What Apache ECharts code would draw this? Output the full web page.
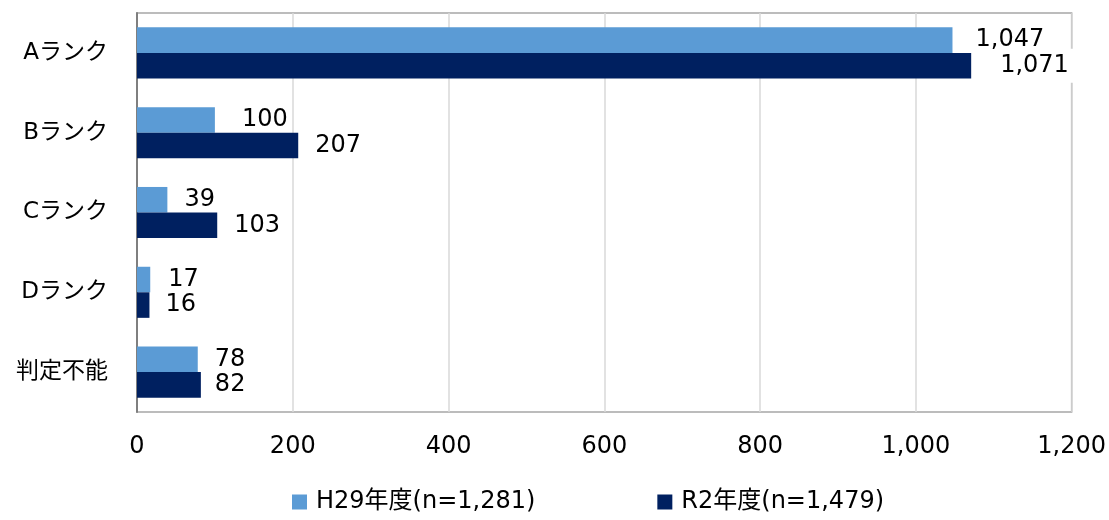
<!DOCTYPE html>
<html>
<head>
<meta charset="utf-8">
<script src="https://cdn.jsdelivr.net/npm/echarts@6/dist/echarts.min.js"></script>
<style>
  html, body { margin: 0; padding: 0; background: #fff; }
  #chart { width: 1109px; height: 520px; }
</style>
</head>
<body>
<div id="chart"></div>
<script>
// Ranks, top to bottom
const categories = ['Aランク', 'Bランク', 'Cランク', 'Dランク', '判定不能'];
const seriesNames = ['H29年度(n=1,281)', 'R2年度(n=1,479)'];
const valuesH29 = [1047, 100, 39, 17, 78];
const valuesR2 = [1071, 207, 103, 16, 82];
const xTicks = [0, 200, 400, 600, 800, 1000, 1200];

// Label gap from bar end, per bar
const gapH29 = [20, 24, 14, 15, 14];
const gapR2 = [26, 14, 14, 13, 11];
// White box padding [top, right, bottom, left]; the long R2 label sits over the frame
const padH29 = [[0, 3, 0, 3], [0, 3, 0, 3], [0, 3, 0, 3], [0, 3, 0, 3], [0, 3, 0, 3]];
const padR2 = [[2, 12, 10, 3], [0, 3, 0, 3], [0, 3, 0, 3], [0, 3, 0, 3], [0, 3, 0, 3]];

const latin = '"DejaVu Sans", "Noto Sans CJK JP", sans-serif';

function withLabels(values, gaps, pads) {
  return values.map((v, i) => ({
    value: v,
    label: { distance: gaps[i], padding: pads[i] }
  }));
}

const fmt = v => v.toLocaleString('en-US');

const labelStyle = {
  show: true,
  position: 'right',
  color: '#000',
  fontFamily: latin,
  fontSize: 24,
  lineHeight: 22,
  backgroundColor: '#fff',
  formatter: p => fmt(p.value)
};

const chart = echarts.init(document.getElementById('chart'));
chart.setOption({
  animation: false,
  backgroundColor: '#fff',
  grid: {
    left: 137, right: 33, top: 13, bottom: 108,
    show: true, borderColor: '#a6a6a6', borderWidth: 1.5
  },
  legend: {
    bottom: 1,
    left: 287,
    itemWidth: 15,
    itemHeight: 15,
    itemGap: 122,
    icon: 'rect',
    textStyle: { fontFamily: latin, fontSize: 24, color: '#000', padding: [0, 0, 0, 4] },
    data: seriesNames
  },
  xAxis: {
    type: 'value',
    min: xTicks[0],
    max: xTicks[xTicks.length - 1],
    interval: xTicks[1] - xTicks[0],
    axisLine: { show: false },
    axisTick: { show: false },
    splitLine: { lineStyle: { color: '#d9d9d9', width: 1.5 } },
    axisLabel: {
      margin: 23,
      color: '#000',
      fontFamily: latin,
      fontSize: 24,
      formatter: v => fmt(v)
    }
  },
  yAxis: {
    type: 'category',
    inverse: true,
    data: categories,
    axisLine: { show: true, lineStyle: { color: '#7f7f7f', width: 2 } },
    axisTick: { show: false },
    axisLabel: {
      margin: 29,
      color: '#000',
      fontFamily: latin,
      fontSize: 23
    }
  },
  series: [
    {
      name: seriesNames[0],
      type: 'bar',
      data: withLabels(valuesH29, gapH29, padH29),
      itemStyle: { color: '#5b9bd5' },
      barGap: '0%',
      barCategoryGap: '36%',
      label: labelStyle,
      z: 3
    },
    {
      name: seriesNames[1],
      type: 'bar',
      data: withLabels(valuesR2, gapR2, padR2),
      itemStyle: { color: '#002060' },
      barGap: '0%',
      barCategoryGap: '36%',
      label: labelStyle,
      z: 3
    }
  ]
});
</script>
</body>
</html>
